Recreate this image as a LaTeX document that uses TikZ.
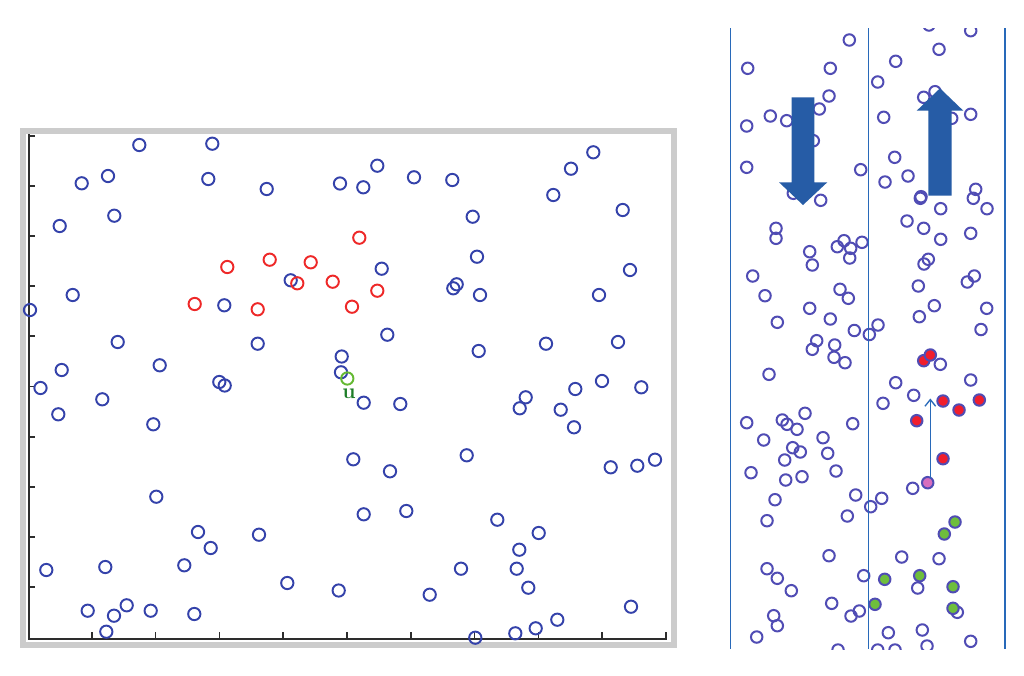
\documentclass[tikz,border=0pt]{standalone}
\usetikzlibrary{arrows.meta}
\definecolor{lblue}{RGB}{52,66,170}
\definecolor{rblue}{RGB}{80,76,180}
\definecolor{lred}{RGB}{238,40,40}
\definecolor{lgreen}{RGB}{100,185,50}
\definecolor{ugreen}{RGB}{30,125,40}
\definecolor{framegray}{RGB}{204,204,204}
\definecolor{axisgray}{RGB}{45,45,45}
\definecolor{laneblue}{RGB}{40,105,185}
\definecolor{arrowblue}{RGB}{38,92,166}
\definecolor{fillred}{RGB}{240,30,45}
\definecolor{fillgreen}{RGB}{110,190,60}
\definecolor{fillpink}{RGB}{215,110,190}
\tikzset{
  lc/.style={draw=lblue, line width=1.45pt},
  rc/.style={draw=lred, line width=1.45pt},
  gc/.style={draw=lgreen, line width=1.45pt},
  pc/.style={draw=rblue, line width=1.5pt},
  pcred/.style={draw=rblue, line width=1.5pt, fill=fillred},
  pcgreen/.style={draw=rblue, line width=1.5pt, fill=fillgreen},
  pcpink/.style={draw=rblue, line width=1.5pt, fill=fillpink},
  axisline/.style={draw=axisgray, line width=1.2pt},
  lane/.style={draw=laneblue, line width=1.1pt},
  blockarrow/.style={fill=arrowblue, draw=none},
}
\begin{document}
\begin{tikzpicture}[x=0.75pt,y=-0.75pt]
\useasboundingbox[fill=white] (0,0) rectangle (1024,675);
% ---------- left panel ----------
\draw[framegray, line width=4.5pt] (23,131) rectangle (673.5,645);
\draw[axisline] (29,134) -- (29,639) -- (666.5,639);
\foreach \ty in {136,186,236,286,336,386.5,437,487,537,587}
  \draw[axisline] (29,\ty) -- (35,\ty);
\foreach \k in {1,...,10}
  \draw[axisline] ({28+63.8*\k},639) -- ({28+63.8*\k},632);
\foreach \px/\py in {139.3/145,212.3/143.7,108/176,81.7/183.3,208.3/179,266.7/189,340/183.5,114.3/215.7,59.7/226,290.7/280.3,72.7/295,30/310,224.3/305.3,117.7/342,257.7/343.7,341.7/356.5,61.7/370,159.7/365.3,341/372.3,219.3/382,224.7/385.5,40.5/388,
377.3/165.7,363.3/187.3,414/177.3,452.3/180,593.3/152.3,571/168.7,553.3/195,622.7/210,472.7/216.7,477/256.7,381.7/268.7,630/270,453.3/288.3,456.7/284.3,480/295,599/295,387.3/334.7,478.7/351,546/343.7,618/342,
102.3/399.3,58.3/414.3,153.3/424.3,156.3/496.7,198/532,210.7/548,259/534.7,46.3/570,105.3/567,184.3/565.3,287.3/583,338.7/590.5,87.7/610.7,126.7/605.3,114/615.7,150.7/610.7,194.3/614,106.3/631.7,
363.7/402.7,400.3/404,525.7/397.3,519.7/408.3,575.3/389,602/381,641.3/387.3,560.7/409.7,574/427.3,353.3/459.3,390/471.3,466.7/455.3,610.7/467.3,637.3/465.7,655/459.7,363.7/514.3,406.3/511,497.3/519.7,538.7/533,519.3/549.7,461/568.7,516.7/568.7,528.3/587.7,429.7/594.7,631/606.7,557.3/619.7,535.7/628.3,515.3/633.3,475.3/637.7}
  \draw[lc] (\px,\py) circle[radius=4.6pt];
\foreach \px/\py in {227.3/267,269.7/259.7,310.7/262.3,297.3/283.3,332.7/281.7,194.7/304,257.7/309.3,359.3/237.7,377.3/290.7,352/306.7}
  \draw[rc] (\px,\py) circle[radius=4.6pt];
\draw[gc] (347.3,378.5) coordinate (ucirc) circle[radius=4.6pt];
\node[text=ugreen, font=\fontsize{16}{16}\selectfont, inner sep=0pt] (ulabel) at (349,394) {\textbf{u}};
% ---------- right panel ----------
\begin{scope}
\clip (731,28) rectangle (1005,649);
\foreach \px/\py in {849.3/40,747.7/68.3,830.3/68.3,829/96,819.3/109,770.3/116,786.7/120.7,746.7/126,813.3/140.7,746.7/167.3,860.7/169.7,820.7/200.3,793.3/193.3,776/228.3,776/238.3,809.7/251.7,812.3/265,837.3/246.7,844/240.7,850.7/248.3,849.7/258,862/242.3,752.7/276,765/295.7,777.3/322.3,809.7/308.3,830.3/319,840/289.3,848.3/298.3,854.3/330.5,869.3/334.5,878/325,
816.7/340.7,812.3/349.3,834.7/345,834/357.3,845/362.7,769/374.3,746.7/422.7,782.3/420,787/424.3,805/413.3,797/429.3,763.7/440,852.7/423.7,823/437.7,792.7/447.7,800.3/452,784.7/460,827.7/453.3,751/472.7,785.7/480,802/476.7,836/471,775/499.7,767/520.7,855.7/495,847.3/516,870.7/506.7,881.7/498.3,829/555.7,767/568.7,777.3/578.3,791.3/590.7,863.7/575.7,831.7/603.3,851/616,859.3/611,773.7/615.7,777.3/625.7,756.7/637,838/650,
929/25,970.7/30.7,939/49.3,895.7/61.3,877.7/82,923.7/97.3,935/91.7,883.7/117.3,970.7/114.3,951.7/118.3,894.7/157.3,908/176,885/182,920.3/198.3,921/196.7,940.7/208.7,975.7/189.3,973.3/198.3,987/208.7,907/221,923.7/228.3,940.7/239.3,970.7/233.3,928.3/259.3,924/264,974.3/276,967.3/282,918.3/286,934.3/305.7,986.7/308.3,919.3/316.7,981/329.5,940.3/364.3,895.7/382.7,970.7/380,913.7/395.3,883/403.3,912.7/488.3,901.7/557,939/558.7,917.7/588,957.3/612.3,888.3/632.7,922.3/630,970.7/641.3,877.7/650,895/650,927/646}
  \draw[pc] (\px,\py) circle[radius=4.3pt];
\foreach \px/\py in {923.7/360.7,930.3/355,943/401,959/410,979.3/400,916.7/420.7,943/458.7}
  \draw[pcred] (\px,\py) circle[radius=4.3pt];
\foreach \px/\py in {955/522,944.3/534,884.7/579.3,919.7/575.7,953/586.7,875/604.3,953/608.3}
  \draw[pcgreen] (\px,\py) circle[radius=4.3pt];
\draw[pcpink] (927.7,482.7) coordinate (start) circle[radius=4.3pt];
\end{scope}
\draw[lane] (730.7,28) -- (730.7,649);
\draw[lane] (868.3,28) -- (868.3,649);
\draw[lane] (1005,28) -- (1005,649);
% block arrows
\fill[blockarrow] (791.7,97.3) -- (814.3,97.3) -- (814.3,182.3) -- (827.3,182.3) -- (803,205) -- (779,182.3) -- (791.7,182.3) -- cycle;
\fill[blockarrow] (928.3,195.7) -- (951.7,195.7) -- (951.7,110.7) -- (963.3,110.7) -- (940,88.3) -- (916.7,110.7) -- (928.3,110.7) -- cycle;
% thin arrow
\coordinate (tipend) at (930.3,398.5);
\coordinate (tipstart) at (930.3,479);
\draw[draw=laneblue, line width=1pt, -{Straight Barb[length=5pt,width=8pt]}] (tipstart) -- (tipend);
\end{tikzpicture}
\end{document}
